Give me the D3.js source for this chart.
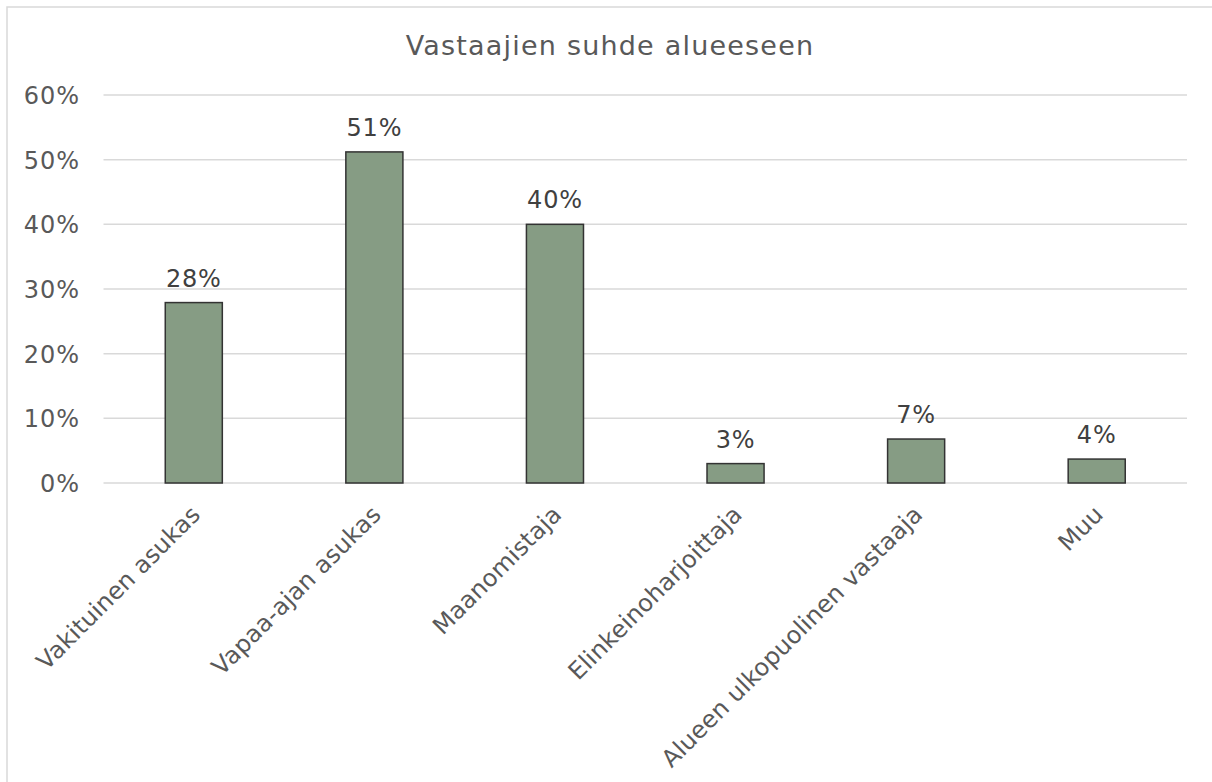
<!DOCTYPE html>
<html>
<head>
<meta charset="utf-8">
<script src="https://cdn.jsdelivr.net/npm/d3@7"></script>
<style>
  html, body { margin: 0; padding: 0; background: #fff; }
  svg { display: block; font-family: "DejaVu Sans", Verdana, sans-serif; }
</style>
</head>
<body>
<svg id="chart" width="1212" height="782"></svg>
<script>
const title = "Vastaajien suhde alueeseen";
const categories = ["Vakituinen asukas", "Vapaa-ajan asukas", "Maanomistaja", "Elinkeinoharjoittaja", "Alueen ulkopuolinen vastaaja", "Muu"];
const values = [0.279, 0.512, 0.40, 0.030, 0.068, 0.037];
const valueLabels = ["28%", "51%", "40%", "3%", "7%", "4%"];
const yTicks = [0, 0.1, 0.2, 0.3, 0.4, 0.5, 0.6];

const svg = d3.select("#chart");
const W = 1212, H = 782;
const plot = { left: 103.5, right: 1187, top: 95, bottom: 483 };

// outer border
svg.append("rect")
  .attr("x", 7).attr("y", 7).attr("width", W + 20).attr("height", H + 20)
  .attr("fill", "#fff").attr("stroke", "#d9d9d9").attr("stroke-width", 1.5);

const x = d3.scaleBand().domain(categories).range([plot.left, plot.right]).paddingInner(0.684).paddingOuter(0.342);
const y = d3.scaleLinear().domain([0, 0.6]).range([plot.bottom, plot.top]);

// gridlines
svg.append("g").selectAll("line").data(yTicks).join("line")
  .attr("x1", plot.left).attr("x2", plot.right)
  .attr("y1", d => y(d)).attr("y2", d => y(d))
  .attr("stroke", "#d9d9d9").attr("stroke-width", 1.5);

// y axis labels
const yAxis = d3.axisLeft(y).tickValues(yTicks).tickFormat(d3.format(".0%")).tickSize(0).tickPadding(0);
const ya = svg.append("g").attr("transform", `translate(80,0)`).call(yAxis);
ya.select(".domain").remove();
ya.selectAll("text").attr("font-size", 24).attr("fill", "#595959")
  .attr("font-family", "DejaVu Sans, Verdana, sans-serif").attr("letter-spacing", "1px").attr("dy", "0.36em");

// bars
svg.append("g").selectAll("rect").data(values).join("rect")
  .attr("x", (d, i) => x(categories[i]))
  .attr("width", x.bandwidth())
  .attr("y", d => y(d))
  .attr("height", d => y(0) - y(d))
  .attr("fill", "#869c84").attr("stroke", "#333333").attr("stroke-width", 1.5);

// data labels
svg.append("g").selectAll("text").data(values).join("text")
  .attr("x", (d, i) => x(categories[i]) + x.bandwidth() / 2)
  .attr("y", d => y(d) - 16)
  .attr("text-anchor", "middle")
  .attr("font-size", 24).attr("letter-spacing", "0.8px").attr("fill", "#404040")
  .text((d, i) => valueLabels[i]);

// category labels
svg.append("g").selectAll("text").data(categories).join("text")
  .attr("transform", d => `translate(${x(d) + x.bandwidth() / 2 + 8},${plot.bottom + 33}) rotate(-45)`)
  .attr("text-anchor", "end")
  .attr("font-size", 24).attr("letter-spacing", "0.15px").attr("fill", "#595959")
  .text(d => d);

// title
svg.append("text")
  .attr("x", 610).attr("y", 55)
  .attr("text-anchor", "middle")
  .attr("font-size", 27).attr("letter-spacing", "1.2px").attr("fill", "#595959")
  .text(title);
</script>
</body>
</html>
